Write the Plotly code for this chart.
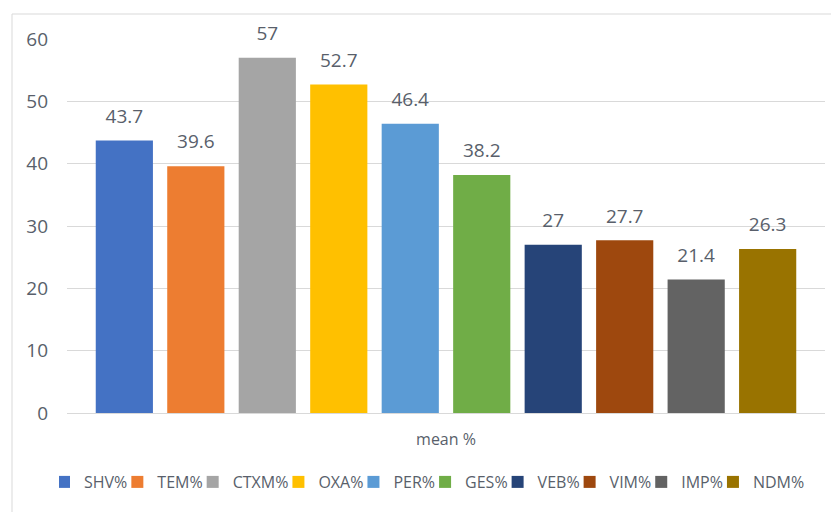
import plotly.graph_objects as go

category = ["mean %"]
series_names = ["SHV%", "TEM%", "CTXM%", "OXA%", "PER%", "GES%", "VEB%", "VIM%", "IMP%", "NDM%"]
series_values = [43.7, 39.6, 57, 52.7, 46.4, 38.2, 27, 27.7, 21.4, 26.3]
series_colors = ["#4472C4", "#ED7D31", "#A5A5A5", "#FFC000", "#5B9BD5",
                 "#70AD47", "#264478", "#9E480E", "#636363", "#997300"]
y_ticks = [0, 10, 20, 30, 40, 50, 60]

FONT = "Open Sans"
TXT = "#595F6B"
GRID = "#D9D9D9"

# page body has an 8px default margin; size the figure so it fits the 839x512 window
OFF = 8
W, H = 839 - OFF, 512 - OFF
ml, mt = 67 - OFF, 39 - OFF
pw, ph = 825 - 67, 413 - 39
mr = W - ml - pw
mb = H - mt - ph

fig = go.Figure()
for name, val, col in zip(series_names, series_values, series_colors):
    fig.add_trace(go.Bar(
        x=category, y=[val], name=name,
        marker=dict(color=col, line=dict(width=0)),
        text=[val],
        texttemplate="<span style='font-size:19px'>%{y}</span><br>\u00a0",
        textposition="outside",
        textfont=dict(family=FONT, size=9, color=TXT),
        constraintext="none",
        cliponaxis=False,
    ))

fig.update_layout(
    width=W, height=H,
    margin=dict(l=ml, r=mr, t=mt, b=mb, pad=0),
    paper_bgcolor="white", plot_bgcolor="white",
    barmode="group", bargap=0.057, bargroupgap=0.2,
    font=dict(family=FONT, color=TXT),
    showlegend=True,
    legend=dict(
        orientation="h", x=(51 - ml) / pw, xanchor="left",
        y=-(482 - OFF - (mt + ph)) / ph, yanchor="middle",
        font=dict(family=FONT, size=16, color=TXT),
        itemwidth=30, indentation=-15, traceorder="normal",
        bgcolor="rgba(0,0,0,0)",
    ),
    xaxis=dict(
        type="category", showline=True, linecolor=GRID, linewidth=1,
        ticks="", showgrid=False, ticklabelstandoff=12,
        tickfont=dict(family=FONT, size=16, color=TXT),
    ),
    yaxis=dict(
        range=[0, 60], tickvals=y_ticks, showgrid=True, gridcolor=GRID,
        gridwidth=1, zeroline=False, showline=False, ticks="",
        ticklabelstandoff=18,
        tickfont=dict(family=FONT, size=19, color=TXT),
    ),
    shapes=[dict(
        type="rect", xref="paper", yref="paper", layer="below",
        x0=(12 - OFF - ml) / pw, x1=1.2, y0=-0.5, y1=(mt + ph - (14 - OFF)) / ph,
        line=dict(color=GRID, width=1), fillcolor="rgba(0,0,0,0)",
    )],
)

fig.write_html("out.html")
